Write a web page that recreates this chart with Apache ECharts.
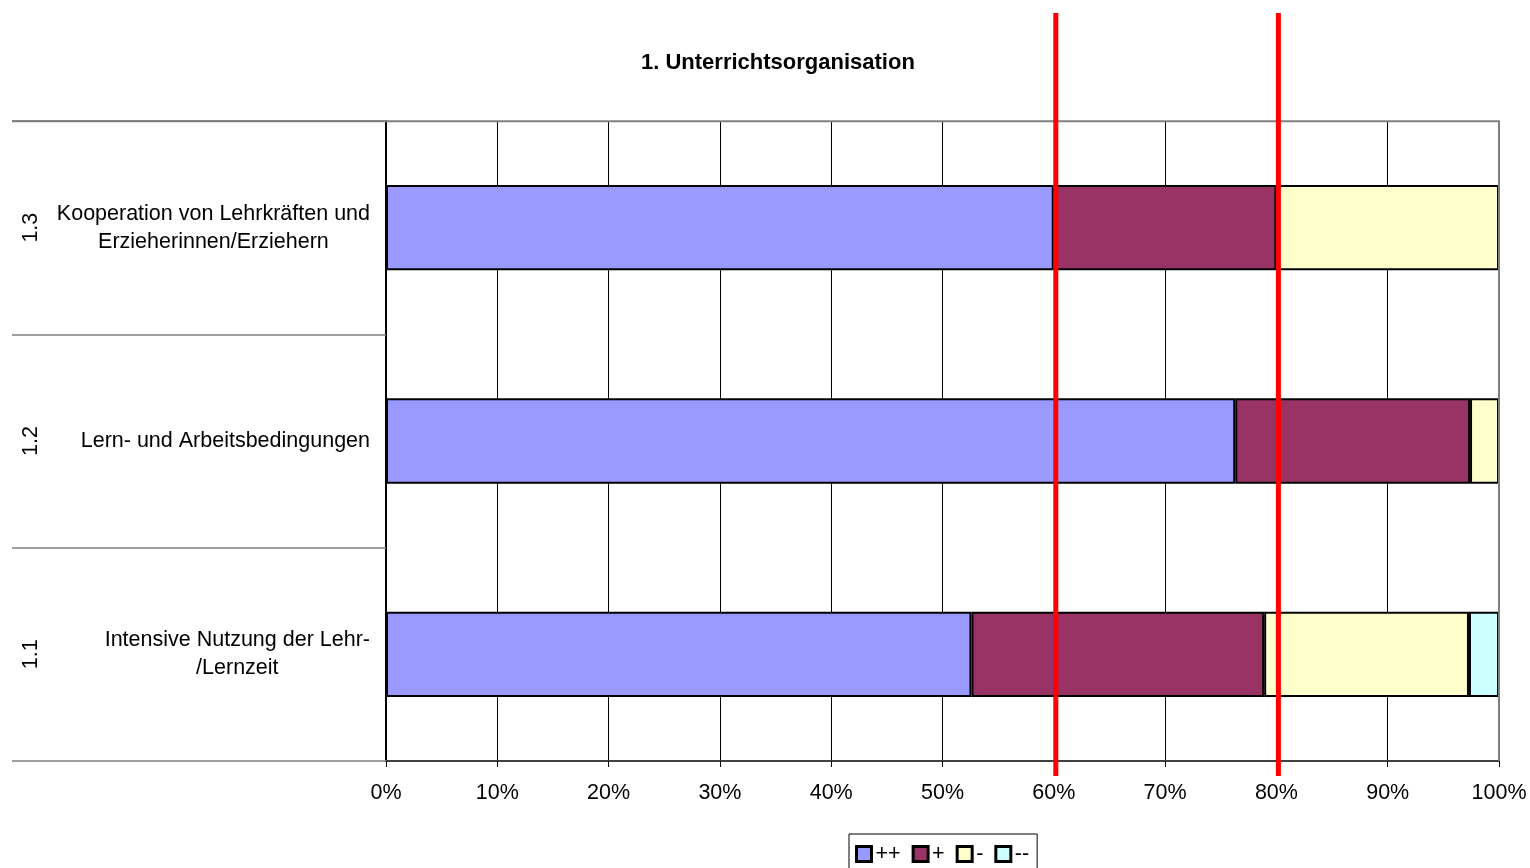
<!DOCTYPE html>
<html>
<head>
<meta charset="utf-8">
<script src="https://cdn.jsdelivr.net/npm/echarts@6/dist/echarts.min.js"></script>
<style>
  html, body { margin: 0; padding: 0; background: #fff; }
  #chart { width: 1530px; height: 868px; }
</style>
</head>
<body>
<div id="chart"></div>
<script>
// Categories (bottom to top) and their section numbers
const codes = ['1.1', '1.2', '1.3'];
const names = [
  'Intensive Nutzung der Lehr-\n/Lernzeit',
  'Lern- und Arbeitsbedingungen',
  'Kooperation von Lehrkräften und\nErzieherinnen/Erziehern'
];

// Share of answers per rating (percent)
const ratingPlusPlus = [52.6, 76.3, 60.0];
const ratingPlus     = [26.3, 21.1, 20.0];
const ratingMinus    = [18.4, 2.6, 20.0];
const ratingMinusMinus = [2.7, 0, 0];

const seriesNames = ['++', '+', '-', '--'];
const seriesColors = ['#9999FF', '#993366', '#FFFFCC', '#CCFFFF'];

// Reference thresholds drawn as red vertical lines
const thresholds = [60, 80];

const FONT = 'Liberation Sans, Arial, sans-serif';
const FS = 21.5;

const chart = echarts.init(document.getElementById('chart'));

const seriesData = [ratingPlusPlus, ratingPlus, ratingMinus, ratingMinusMinus];

chart.setOption({
  animation: false,
  backgroundColor: '#ffffff',
  textStyle: { fontFamily: FONT },
  title: {
    text: '1. Unterrichtsorganisation',
    left: 636,
    top: 47,
    textStyle: { fontFamily: FONT, fontSize: 22, fontWeight: 'bold', color: '#000' }
  },
  legend: {
    left: 849,
    top: 834,
    padding: [9, 8, 9, 6],
    itemGap: 11,
    itemWidth: 15,
    itemHeight: 15,
    icon: 'rect',
    itemStyle: { borderColor: '#000', borderWidth: 3 },
    borderColor: '#000',
    borderWidth: 1,
    textStyle: { fontFamily: FONT, fontSize: FS, color: '#000', padding: [0, 0, 0, -1] },
    data: seriesNames
  },
  grid: { left: 386, right: 31, top: 121, bottom: 107, containLabel: false },
  xAxis: {
    type: 'value',
    min: 0,
    max: 100,
    interval: 10,
    axisLine: { show: true, lineStyle: { color: '#404040', width: 2 } },
    axisTick: { show: true, length: 6, lineStyle: { color: '#000' } },
    axisLabel: { formatter: '{value}%', fontFamily: FONT, fontSize: FS, color: '#000', margin: 21 },
    splitLine: { show: true, lineStyle: { color: '#000', width: 1 } }
  },
  yAxis: [
    {
      type: 'category',
      data: names,
      boundaryGap: true,
      axisLine: { show: true, lineStyle: { color: '#000', width: 2 } },
      axisTick: { show: true, length: 374, lineStyle: { color: '#808080', width: 1.5 } },
      axisLabel: {
        fontFamily: FONT, fontSize: FS, color: '#000', margin: 16,
        align: 'right', lineHeight: 28,
        // each line centered inside the right-aligned label block
        formatter: function (v) {
          return v.split('\n').map(function (s) { return '{c|' + s + '}'; }).join('\n');
        },
        rich: { c: { align: 'center', fontFamily: FONT, fontSize: FS, color: '#000', lineHeight: 28 } }
      },
      splitLine: { show: false }
    },
    {
      type: 'category',
      data: codes,
      position: 'left',
      offset: 344,
      axisLine: { show: false },
      axisTick: { show: false },
      axisLabel: { rotate: 90, fontFamily: FONT, fontSize: FS, color: '#000', margin: 0 }
    }
  ],
  series: seriesData.map(function (vals, i) {
    return {
      name: seriesNames[i],
      type: 'bar',
      stack: 'total',
      barWidth: '40%',
      data: vals,
      itemStyle: { color: seriesColors[i], borderColor: '#000', borderWidth: 2 },
      emphasis: { disabled: true }
    };
  })
});

// Threshold lines and the grey frame on top and right of the plot
function drawOverlay() {
  const items = thresholds.map(function (t) {
    const x = chart.convertToPixel({ xAxisIndex: 0 }, t) + 2;
    return {
      type: 'line',
      z: 100,
      shape: { x1: x, y1: 13, x2: x, y2: 776 },
      style: { stroke: '#FF0000', lineWidth: 5 }
    };
  });
  const xRight = chart.convertToPixel({ xAxisIndex: 0 }, 100);
  const yTop = chart.convertToPixel({ yAxisIndex: 0 }, names[2]) - 106.5;
  const yBottom = chart.convertToPixel({ yAxisIndex: 0 }, names[0]) + 106.5;
  items.unshift({
    type: 'polyline', z: 5,
    shape: { points: [[12, yTop], [xRight, yTop], [xRight, yBottom]] },
    style: { stroke: '#808080', lineWidth: 2, fill: null }
  });
  chart.setOption({ graphic: items });
}
drawOverlay();
</script>
</body>
</html>
